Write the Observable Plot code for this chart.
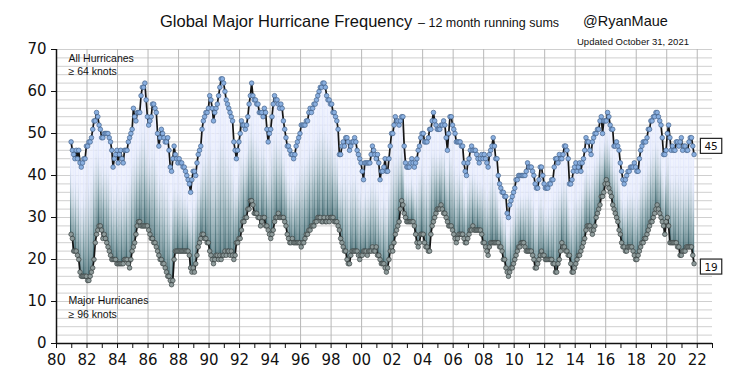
<!DOCTYPE html>
<html><head><meta charset="utf-8">
<script src="https://cdn.jsdelivr.net/npm/d3@7"></script>
<script src="https://cdn.jsdelivr.net/npm/@observablehq/plot@0.6"></script>
<style>
body{margin:0;background:#fff;}
#wrap{position:relative;width:750px;height:388px;overflow:hidden;font-family:"Liberation Sans",Arial,sans-serif;color:#111;}
#wrap svg{position:absolute;left:0;top:0;}
.t{position:absolute;white-space:nowrap;line-height:1;}
</style></head><body>
<div id="wrap">
<div class="t" style="left:160px;top:13px;font-size:16.5px;">Global Major Hurricane Frequency</div>
<div class="t" style="left:418px;top:17px;font-size:12.5px;">– 12 month running sums</div>
<div class="t" style="left:583px;top:14px;font-size:14.5px;">@RyanMaue</div>
<div class="t" style="left:577px;top:37px;font-size:9.5px;">Updated October 31, 2021</div>
</div>
<script>
// first value: December 1980, monthly through October 2021
const startYear = 1980;
const startMonth = 12;

// All hurricanes (>= 64 knots), 12-month running sums
const allHurricanes = [
48,
46,45,44,46,44,46,43,42,43,44,44,47,
47,48,48,49,51,53,53,55,54,52,51,49,
49,50,50,50,50,49,48,46,42,44,45,46,
43,45,46,44,43,46,46,46,48,49,50,51,
56,54,53,55,55,55,59,61,61,62,58,54,
52,53,54,57,57,56,55,50,47,49,51,50,
49,48,48,49,46,42,41,44,47,45,44,43,
44,43,43,42,42,41,40,39,38,36,39,41,
41,40,43,45,46,47,51,53,54,55,55,56,
59,58,56,53,55,56,57,59,61,63,63,62,
60,58,57,56,55,54,53,48,46,44,46,48,
50,53,52,52,51,52,54,57,59,62,59,58,
58,57,57,55,55,55,54,56,55,51,48,50,
51,54,57,59,58,58,57,56,57,56,53,51,
49,47,47,46,45,45,44,45,47,48,49,50,
52,52,52,52,53,53,55,56,55,56,57,57,
58,59,60,61,61,62,62,61,59,58,58,57,
57,55,55,54,53,51,45,45,47,48,47,49,
49,48,46,47,48,48,49,48,46,45,44,43,
41,39,43,43,43,43,43,45,47,46,45,44,
45,43,39,41,41,42,44,41,41,44,47,50,
50,52,54,53,53,52,53,54,54,47,43,42,
42,42,43,44,43,42,43,44,46,47,49,50,
50,48,48,48,49,51,51,53,55,53,52,51,
51,51,52,52,53,52,49,46,50,54,54,52,
51,50,48,48,48,48,47,47,43,41,40,43,
44,46,47,46,46,46,45,44,43,44,45,44,
45,44,43,42,45,46,47,49,47,44,44,40,
38,37,36,36,35,35,31,30,33,34,35,36,
37,39,39,40,40,40,40,40,40,41,43,42,
42,42,41,40,38,37,37,39,42,42,40,38,
37,37,37,38,38,39,39,42,44,44,43,45,
44,44,45,47,47,46,44,38,38,39,41,42,
43,41,42,43,41,43,44,46,49,48,48,46,
45,48,49,50,50,51,51,53,54,50,53,53,
53,55,54,52,51,51,47,47,48,47,46,43,
41,39,38,39,40,41,41,42,42,42,43,42,
41,41,44,46,47,48,48,48,49,51,51,53,
53,54,54,55,55,54,53,52,49,45,45,46,
50,52,49,46,47,46,46,48,48,47,48,49,
46,47,47,46,46,48,49,49,47,45
];

// Major hurricanes (>= 96 knots), 12-month running sums
const majorHurricanes = [
26,
25,22,22,22,21,20,17,16,16,16,16,16,
15,15,16,17,18,20,24,26,27,28,28,27,
25,26,25,24,23,22,21,20,20,20,20,19,
19,19,19,19,19,20,20,20,19,18,20,22,
23,24,26,28,29,29,28,28,28,28,28,28,
27,26,25,25,24,24,23,22,21,20,20,19,
19,18,17,16,16,15,14,15,20,22,22,22,
22,22,22,22,22,22,22,22,21,18,17,18,
17,19,21,23,24,25,26,26,25,25,24,24,
22,21,20,19,20,21,21,20,21,20,21,21,
22,21,22,22,21,22,21,20,21,24,24,25,
25,27,29,29,30,30,32,32,34,34,33,31,
31,31,30,30,28,29,30,30,28,28,27,26,
25,26,27,29,30,30,31,30,30,30,30,29,
28,26,25,24,24,25,24,24,24,24,24,24,
23,24,24,25,26,26,27,27,28,28,28,29,
29,30,30,30,29,29,30,29,29,30,29,30,
30,30,29,29,29,28,27,25,24,23,22,22,
20,19,19,21,22,22,22,22,22,21,20,21,
21,22,22,22,21,22,22,22,23,22,22,23,
21,21,20,19,19,19,18,17,18,20,22,23,
22,24,26,27,28,29,32,34,33,31,30,29,
29,29,29,29,29,28,26,24,23,24,26,26,
26,24,23,23,22,22,26,28,29,30,31,32,
32,32,33,32,31,31,30,29,28,28,28,27,
26,25,24,25,26,26,26,26,25,24,24,25,
26,27,27,28,27,27,27,27,27,27,26,24,
24,23,22,21,23,24,24,24,24,24,24,24,
23,23,22,20,20,18,17,16,17,18,18,19,
20,21,22,23,23,24,24,24,23,22,22,22,
22,22,21,20,18,18,19,20,21,22,21,21,
20,20,20,20,20,20,19,19,17,17,19,20,
22,24,23,23,22,22,21,21,19,17,17,18,
19,20,21,21,22,23,24,25,27,28,28,28,
27,26,27,28,30,31,32,33,35,35,36,38,
39,38,37,36,35,33,32,31,30,29,27,26,
24,23,23,22,22,23,23,23,23,22,21,20,
20,21,22,23,24,24,25,25,26,27,28,29,
29,30,31,32,33,32,31,30,29,28,26,29,
30,28,24,24,24,24,24,24,23,23,21,21,
22,22,22,23,23,23,23,23,21,19
];

const yTicks = [0,10,20,30,40,50,60,70];
const yGrid = d3.range(0, 71, 2);
const xTicks = d3.range(1980, 2024, 1);
const xGrid = d3.range(1980, 2024, 2);
const xTickLabel = d => (d % 2 === 0 && d <= 2022) ? String(d % 100).padStart(2, "0") : "";

const data = allHurricanes.map((a, i) => {
  const m = (startMonth - 1) + i;               // months since Jan of startYear
  return {t: startYear + (m + 0.5) / 12, all: a, major: majorHurricanes[i], i};
});
const even = data.filter(d => d.i % 2 === 0);
const odd = data.filter(d => d.i % 2 === 1);
const last = data[data.length - 1];

const defs = () => {
  const g = d3.create("svg:defs");
  const mk = (id, stops) => {
    const lg = g.append("linearGradient").attr("id", id)
      .attr("x1", 0).attr("y1", 0).attr("x2", 0).attr("y2", 1);
    stops.forEach(([o, c]) => lg.append("stop").attr("offset", o).attr("stop-color", c));
  };
  mk("gA", [[0, "#e8ecff"], [0.3, "#dfe5fb"], [0.5, "#b4c6d5"], [0.72, "#6f929b"], [1, "#28535b"]]);
  mk("gB", [[0, "#f0f3ff"], [0.38, "#e4eafb"], [0.6, "#bfcfda"], [0.82, "#809fa7"], [1, "#456c74"]]);
  return g.node();
};

const chart = Plot.plot({
  width: 750,
  height: 388,
  marginLeft: 56,
  marginRight: 38,
  marginTop: 49,
  marginBottom: 45,
  style: {fontFamily: "DejaVu Sans, Verdana, sans-serif", fontSize: "15px", color: "#111", background: "transparent"},
  x: {domain: [1980, 2023]},
  y: {domain: [0, 70]},
  marks: [
    defs,
    Plot.gridY(yGrid, {stroke: "#cfcfcf", strokeOpacity: 1, strokeWidth: 1}),
    Plot.gridX(xGrid, {stroke: "#b8b8b8", strokeOpacity: 1, strokeWidth: 1}),
    Plot.rect(even, {x1: d => d.t - 1/24, x2: d => d.t + 1/24, y1: "major", y2: "all", fill: "url(#gA)", fillOpacity: 0.9}),
    Plot.rect(odd, {x1: d => d.t - 1/24, x2: d => d.t + 1/24, y1: "major", y2: "all", fill: "url(#gB)", fillOpacity: 0.9}),
    Plot.line(data, {x: "t", y: "all", stroke: "#151515", strokeWidth: 1.7}),
    Plot.line(data, {x: "t", y: "major", stroke: "#151515", strokeWidth: 1.7}),
    Plot.dot(data, {x: "t", y: "all", r: 2.3, fill: "#89afe0", stroke: "#46648c", strokeWidth: 0.7}),
    Plot.dot(data, {x: "t", y: "major", r: 2.3, fill: "#8d9a9a", stroke: "#3a4242", strokeWidth: 0.7}),
    Plot.ruleY([0], {stroke: "#111", strokeWidth: 1.5}),
    Plot.ruleX([1980], {y1: 0, y2: 70, stroke: "#111", strokeWidth: 1.5}),
    Plot.axisY(yTicks, {tickSize: 5, tickPadding: 5, label: null, fontSize: 15, stroke: "#111"}),
    Plot.axisX(xTicks, {tickSize: 5, tickPadding: 6, label: null, tickFormat: xTickLabel, fontSize: 15, stroke: "#111"}),
    Plot.text(["All Hurricanes\n≥ 64 knots"], {frameAnchor: "top-left", textAnchor: "start", lineAnchor: "top", dx: 12, dy: 3, fontSize: 10.5, lineHeight: 1.25, fontFamily: "Liberation Sans, Arial, sans-serif", fill: "#111"}),
    Plot.text(["Major Hurricanes\n≥ 96 knots"], {frameAnchor: "bottom-left", textAnchor: "start", lineAnchor: "bottom", dx: 12, dy: -26, fontSize: 10.5, lineHeight: 1.3, fontFamily: "Liberation Sans, Arial, sans-serif", fill: "#111"}),
    Plot.text([last], {x: "t", y: "all", text: d => String(d.all), dx: 17, dy: -7.5, fontSize: 10.5, fill: "#111"}),
    Plot.text([last], {x: "t", y: "major", text: d => String(d.major), dx: 17, dy: 4, fontSize: 10.5, fill: "#111"})
  ]
});

document.getElementById("wrap").prepend(chart);

// boxes around the end labels, sized from the rendered text
const endLabels = new Set([String(last.all), String(last.major)]);
chart.querySelectorAll("text").forEach(t => {
  if (!endLabels.has(t.textContent.trim())) return;
  const b = t.getBBox();
  const r = document.createElementNS("http://www.w3.org/2000/svg", "rect");
  r.setAttribute("x", b.x - 4);
  r.setAttribute("y", b.y - 2);
  r.setAttribute("width", b.width + 8);
  r.setAttribute("height", b.height + 3);
  r.setAttribute("fill", "white");
  r.setAttribute("stroke", "#222");
  r.setAttribute("stroke-width", 1.2);
  if (t.getAttribute("transform")) r.setAttribute("transform", t.getAttribute("transform"));
  t.parentNode.insertBefore(r, t);
});
</script>
</body></html>
